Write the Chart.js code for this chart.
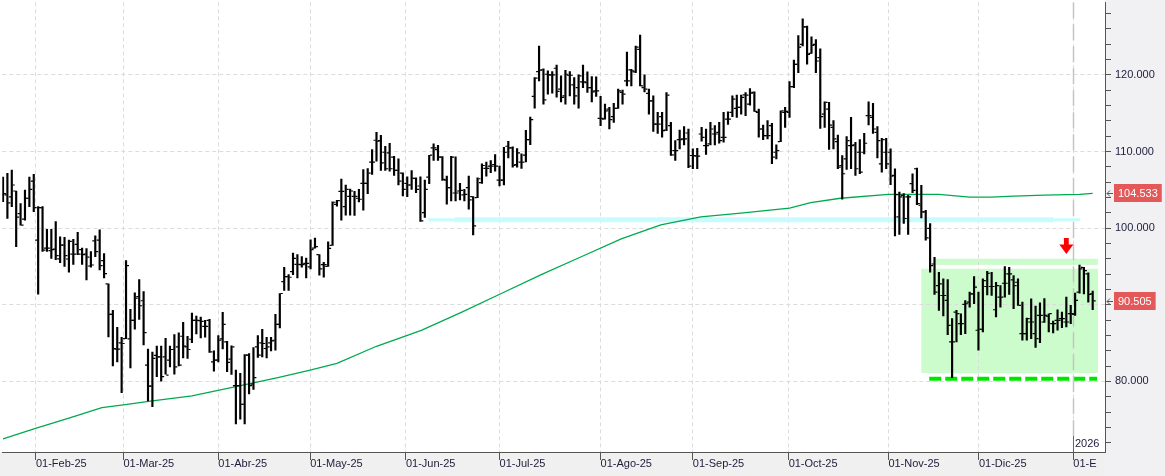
<!DOCTYPE html>
<html>
<head>
<meta charset="utf-8">
<script src="https://cdn.jsdelivr.net/npm/chart.js@4"></script>
<style>
  html, body { margin: 0; padding: 0; background: #fff; }
  #myChart { display: block; }
</style>
</head>
<body>
<canvas id="myChart" width="1165" height="476"></canvas>
<script>
// daily bars, Jan-2025 .. Jan-2026 (index 0 = first bar on screen)
const opens = [
  104.42,104.33,104.07,104.85,101.9,101.17,103.9,106.15,98.44,102.68,
  97.4,97.06,97.27,95.99,97.79,95.97,96.62,97.88,97.19,96.62,
  95.06,98.35,98.44,95.76,92.73,88.74,84.2,85.02,85.58,85.54,
  87.97,91.08,90.52,82.12,79.39,83.38,83.2,83.2,82.77,84.16,
  84.5,85.89,84.5,85.5,87.97,87.92,87.19,87.97,82.55,82.77,
  85.54,85.15,82.9,79.44,79.44,77.01,83.42,79.65,84.5,85.02,
  84.29,85.02,85.37,87.45,93.03,93.68,94.33,95.28,95.24,95.41,
  94.94,97.4,96.54,95.24,95.02,97.75,103.1,104.81,102.81,104.16,
  104.16,103.9,105.84,105.84,108.61,111.47,111.43,109.91,109.83,109.26,
  107.53,107.19,105.84,105.63,106.49,105.5,102.03,106.67,110.48,110.26,
  109.26,106.28,105.28,104.59,104.85,104.33,105.28,104.11,103.98,105.93,
  107.79,108.1,108.31,106.28,106.28,110.69,110.48,108.31,108.61,109.52,
  111.56,117.19,120.43,120.65,120.09,120.0,120.87,118.14,117.27,119.96,
  118.7,118.35,119.09,119.0,118.35,117.92,114.33,114.24,115.54,114.55,
  115.63,117.71,119.22,120.65,120.39,123.33,118.35,117.58,116.62,113.59,
  114.55,112.81,113.38,110.13,111.56,111.65,112.42,109.48,109.39,112.29,
  110.78,111.0,112.29,112.51,111.86,114.24,115.11,115.63,115.76,117.4,
  116.19,117.71,115.11,112.94,112.08,113.38,109.91,111.3,115.11,115.11,
  118.48,121.39,124.0,126.28,122.81,123.98,122.25,114.89,115.54,113.16,
  111.3,108.18,109.05,110.78,110.87,109.91,109.91,114.68,114.46,112.51,
  108.4,109.91,109.91,106.88,101.47,104.29,104.07,105.8,107.75,102.99,
  102.12,99.96,95.32,92.51,91.21,90.56,85.15,89.05,87.53,90.04,
  90.35,91.43,86.67,86.8,92.38,92.38,89.35,91.0,92.81,94.03,
  93.25,92.94,86.23,86.23,87.75,86.23,88.62,87.75,88.5,87.53,
  87.97,88.18,87.75,88.83,88.74,91.65,94.89,94.03,91.43
];
const highs = [
  106.67,107.14,107.58,104.85,103.2,104.98,106.67,107.01,102.81,102.81,
  99.83,99.83,100.87,98.87,98.79,98.44,98.53,99.44,97.4,97.32,
  96.93,99.0,99.78,96.67,92.73,89.26,87.06,85.76,95.76,89.39,
  91.56,93.29,91.73,84.2,83.81,84.59,84.59,85.63,84.59,86.1,
  86.32,87.71,85.89,88.92,88.53,88.4,87.97,88.1,83.98,85.97,
  89.0,85.24,84.63,81.47,81.04,83.51,83.64,84.42,85.97,86.8,
  85.76,85.76,88.74,91.47,94.89,93.94,96.75,96.54,96.28,96.1,
  98.48,98.7,96.54,95.54,98.23,103.42,103.64,106.41,105.63,105.11,
  104.81,105.06,107.66,107.79,110.26,112.51,112.12,110.69,111.08,109.39,
  109.05,107.23,106.71,107.53,106.58,106.71,106.28,109.52,111.0,110.82,
  109.35,106.8,109.39,109.31,105.84,105.06,106.8,104.11,106.58,108.4,
  108.61,108.83,109.61,108.1,110.56,111.34,110.61,110.39,109.7,112.77,
  114.5,119.65,123.77,120.78,120.52,120.43,121.3,119.87,120.61,120.43,
  119.65,120.0,121.3,120.39,119.78,119.74,117.19,116.19,115.76,116.28,
  118.14,118.01,122.99,120.74,123.77,125.19,120.0,118.14,117.27,115.11,
  115.11,117.71,113.81,111.43,112.81,113.25,112.94,110.35,110.43,113.16,
  112.94,113.81,113.38,113.81,115.11,115.19,117.27,117.36,117.36,117.71,
  118.23,117.79,115.54,113.46,114.03,113.68,110.87,115.32,115.76,119.13,
  121.95,125.15,127.32,126.36,124.98,124.63,123.42,116.49,116.41,114.03,
  112.16,109.48,111.95,114.46,111.21,111.56,112.38,116.49,116.28,113.25,
  111.73,111.73,110.35,107.75,104.72,104.5,104.29,107.1,107.84,105.58,
  102.34,100.61,96.19,94.24,93.38,93.29,88.18,89.26,88.83,90.56,
  91.65,93.68,91.65,93.38,94.37,94.24,92.94,92.51,94.98,94.89,
  93.81,93.38,90.35,88.27,90.78,89.83,90.26,90.82,88.83,87.88,
  89.35,89.05,91.0,89.91,91.52,95.19,94.89,94.16,91.77
];
const lows = [
  103.46,101.26,102.81,97.58,100.39,101.04,102.81,102.16,91.39,96.97,
  96.97,96.06,95.89,95.5,95.02,94.24,95.28,96.54,95.28,93.25,
  94.89,96.28,94.55,93.5,85.8,82.03,82.55,78.53,85.58,81.77,
  86.8,88.1,84.76,77.45,76.71,80.61,80.04,80.95,81.9,80.95,
  82.03,83.07,82.99,85.06,86.19,85.67,85.76,83.77,81.34,82.55,
  84.24,81.26,80.91,74.46,75.06,74.46,78.35,78.96,83.12,83.2,
  83.07,83.98,84.07,86.97,91.86,91.86,93.94,93.51,94.89,93.51,
  94.68,97.4,93.85,93.59,95.02,97.75,102.86,101.04,101.69,101.69,
  101.65,103.42,102.34,104.5,107.01,108.74,107.53,107.53,107.45,106.88,
  105.63,104.2,104.11,105.06,104.63,100.87,101.39,105.8,108.83,108.83,
  106.23,103.12,103.55,103.55,103.68,103.55,102.47,99.13,103.98,105.84,
  106.8,107.23,107.45,105.5,105.63,109.18,107.97,107.97,107.79,108.66,
  110.91,115.67,119.22,116.19,117.49,117.62,117.1,116.49,116.19,117.27,
  116.19,115.67,118.35,117.71,116.49,117.19,113.38,114.24,112.94,113.81,
  115.63,116.19,118.57,118.57,120.3,118.57,117.79,114.89,112.64,112.38,
  111.86,112.73,109.48,108.83,110.35,110.87,107.88,107.75,107.75,111.34,
  109.61,110.87,110.87,111.08,111.21,113.55,114.55,114.46,114.89,114.68,
  116.06,115.24,111.86,111.56,111.65,108.4,109.05,111.3,113.16,114.46,
  118.35,120.3,123.77,121.39,122.81,120.3,113.03,113.16,110.26,110.35,
  107.75,103.77,107.66,107.75,106.88,107.1,109.7,113.46,112.38,109.18,
  107.32,107.75,105.67,99.0,99.18,100.61,99.18,104.63,103.08,101.34,
  98.44,94.24,91.34,89.26,88.53,86.1,80.48,85.15,86.1,86.23,
  89.7,90.13,84.07,86.45,91.3,91.21,88.4,89.7,91.0,91.34,
  89.48,89.91,85.37,85.37,85.58,84.42,85.06,87.7,86.45,86.32,
  86.67,87.01,87.1,87.53,88.62,91.52,91.43,90.35,89.35
];
const closes = [
  104.5,103.29,105.63,101.43,100.39,103.9,105.06,102.68,102.68,97.14,
  97.4,97.19,96.41,97.79,96.41,98.27,96.62,96.62,96.54,96.23,
  95.19,96.93,95.11,94.07,88.74,84.29,84.2,84.94,95.11,87.97,
  90.87,89.87,86.36,79.39,82.99,83.2,80.61,80.82,84.16,81.9,
  82.12,84.59,84.16,87.97,87.97,87.84,87.19,83.85,82.77,85.37,
  87.45,82.47,84.5,79.44,77.01,83.42,79.44,80.5,83.42,84.94,
  84.5,85.28,87.45,91.47,93.68,93.59,96.06,95.28,95.24,95.41,
  97.19,97.58,94.68,95.24,97.36,103.38,103.6,104.81,105.06,104.85,
  104.16,103.77,105.84,107.19,108.61,111.34,108.53,107.75,107.75,107.53,
  106.15,105.06,105.63,106.49,105.06,100.95,105.06,109.52,110.48,109.26,
  106.36,105.28,109.26,104.59,104.94,104.42,103.68,100.3,106.45,108.18,
  107.79,108.1,108.1,106.28,109.91,110.48,108.18,109.83,108.61,111.56,
  114.16,119.57,120.61,116.75,120.0,120.0,117.84,117.06,120.09,119.96,
  117.27,119.87,119.09,118.35,117.79,117.92,114.33,115.32,114.16,115.63,
  117.92,117.49,119.22,120.52,123.64,118.57,118.14,116.62,113.59,113.59,
  112.73,117.36,109.57,110.13,111.56,111.65,108.1,109.48,109.39,111.86,
  110.78,112.94,112.29,111.43,111.86,114.24,116.84,115.76,117.06,117.36,
  117.62,115.24,112.94,112.08,112.08,109.26,110.13,115.32,115.24,118.48,
  121.39,123.64,126.28,122.68,123.85,121.82,114.55,116.41,113.46,111.65,
  107.97,107.1,111.43,110.78,107.75,107.32,111.08,114.68,112.94,111.43,
  111.56,108.4,106.8,104.37,104.07,101.26,104.07,104.94,103.2,102.12,
  98.74,95.11,91.65,92.73,91.21,87.32,85.15,88.83,87.53,90.13,
  91.43,92.29,86.8,93.16,94.11,92.38,92.51,91.0,92.81,94.03,
  92.51,89.91,86.23,88.18,87.75,85.58,88.62,88.62,88.83,87.53,
  87.97,88.18,87.75,88.83,90.56,94.68,94.46,91.34,90.505
];

// month starts (bar index) and their labels
const monthPos = [7.5, 27.4, 49.0, 69.9, 91.7, 113.0, 136.0, 157.0, 178.8, 201.5, 222.1, 243.6];
const monthLabels = ['01-Feb-25','01-Mar-25','01-Abr-25','01-May-25','01-Jun-25','01-Jul-25',
  '01-Ago-25','01-Sep-25','01-Oct-25','01-Nov-25','01-Dic-25','01-E'];
const yearLabel = '2026';

// long moving average
const maIdx = [0, 7.4, 15, 22.5, 27.4, 34, 43, 53, 62.3, 69.9, 76, 85, 95.2, 104.3, 113.4, 122.5,
  131.6, 140.7, 149.7, 158.8, 167.9, 179, 183.8, 190.6, 201.5, 213, 220, 225, 230, 237, 245, 248];
const maValues = [72.5, 73.85, 75.2, 76.57, 76.92, 77.44, 78.1, 79.3, 80.47, 81.47, 82.34, 84.58, 86.66, 89.0, 91.47, 93.94,
  96.27, 98.61, 100.43, 101.47, 101.95, 102.6, 103.33, 103.9, 104.4, 104.4, 104.06, 104.06, 104.19, 104.3, 104.4, 104.533];

// support band (cyan) and the lateral range box
const supportLevel = 101.1;
const supportSpans = [[96.8, 102.7], [102.7, 239], [239, 245.1]];
const rangeBox = [209, 249.2, 81.1, 94.7];
const rangeTop = [212, 249.2, 95.2, 96.0];
const floorLevel = 80.34;
const floorSpan = [210.8, 249];
const arrowAt = 242, arrowTip = 96.62, arrowTop = 98.7;

const yMajor = [80, 90, 100, 110, 120];
const priceTags = [104.533, 90.505];
const priceTagLabels = ['104.533', '90.505'];

Chart.defaults.font.family = '"Liberation Sans", Arial, sans-serif';
Chart.defaults.font.size = 11;

const ctx = document.getElementById('myChart');

const bgPlugin = {
  id: 'bg',
  beforeDraw(chart) {
    const c = chart.ctx, a = chart.chartArea;
    const x = chart.scales.x, y = chart.scales.y;
    c.save();
    c.fillStyle = '#ffffff';
    c.fillRect(0, 0, chart.width, chart.height);
    c.fillStyle = '#f1f1f4';
    c.fillRect(a.right, 0, chart.width - a.right, chart.height);
    c.fillStyle = '#f0f0f0';
    c.fillRect(0, a.bottom, a.right, chart.height - a.bottom);
    // range box under the grid
    c.beginPath();
    c.rect(a.left, a.top, a.right - a.left, a.bottom - a.top);
    c.clip();
    c.fillStyle = '#ccfccc';
    [rangeBox, rangeTop].forEach(b => {
      const x1 = x.getPixelForValue(b[0]), x2 = x.getPixelForValue(b[1]);
      const y1 = y.getPixelForValue(b[3]), y2 = y.getPixelForValue(b[2]);
      c.fillRect(x1, y1, x2 - x1, y2 - y1);
    });
    c.restore();
  }
};

const markPlugin = {
  id: 'marks',
  beforeDatasetsDraw(chart) {
    const c = chart.ctx, a = chart.chartArea;
    const x = chart.scales.x, y = chart.scales.y;
    c.save();
    c.beginPath();
    c.rect(a.left, a.top, a.right - a.left, a.bottom - a.top);
    c.clip();
    // dashed floor
    c.strokeStyle = '#00e600';
    c.lineWidth = 4;
    c.setLineDash([12, 4]);
    const fy = y.getPixelForValue(floorLevel);
    c.beginPath();
    c.moveTo(x.getPixelForValue(floorSpan[0]), fy);
    c.lineTo(x.getPixelForValue(floorSpan[1]), fy);
    c.stroke();
    // year separator
    const jx = Math.round(x.getPixelForValue(monthPos[monthPos.length - 1])) + 0.5;
    c.strokeStyle = '#c4c4c4';
    c.lineWidth = 1.5;
    c.setLineDash([16, 6]);
    c.beginPath();
    c.moveTo(jx, a.top);
    c.lineTo(jx, a.bottom - 16);
    c.stroke();
    c.setLineDash([]);
    c.strokeStyle = '#666';
    c.lineWidth = 1;
    c.beginPath();
    c.moveTo(jx, a.bottom - 16);
    c.lineTo(jx, a.bottom);
    c.stroke();
    c.restore();
  },
  afterDatasetsDraw(chart) {
    const c = chart.ctx;
    const x = chart.scales.x, y = chart.scales.y;
    const cx = x.getPixelForValue(arrowAt);
    const top = y.getPixelForValue(arrowTop), tip = y.getPixelForValue(arrowTip);
    const neck = top + (tip - top) * 0.4;
    c.save();
    c.fillStyle = '#ff0000';
    c.beginPath();
    c.moveTo(cx - 2.4, top);
    c.lineTo(cx + 2.4, top);
    c.lineTo(cx + 2.4, neck);
    c.lineTo(cx + 7, neck);
    c.lineTo(cx, tip);
    c.lineTo(cx - 7, neck);
    c.lineTo(cx - 2.4, neck);
    c.closePath();
    c.fill();
    c.restore();
  },
  afterDraw(chart) {
    const c = chart.ctx, a = chart.chartArea;
    const x = chart.scales.x, y = chart.scales.y;
    c.save();
    c.font = '11px "Liberation Sans", Arial, sans-serif';
    c.textBaseline = 'middle';
    priceTags.forEach((v, i) => {
      const py = Math.round(y.getPixelForValue(v));
      const txt = priceTagLabels[i];
      const w = c.measureText(txt).width + 8;
      c.fillStyle = '#e35858';
      c.fillRect(a.right + 9, py - 9, w, 18);
      c.fillStyle = '#ffffff';
      c.fillText(txt, a.right + 13, py + 0.5);
      c.strokeStyle = '#555';
      c.lineWidth = 1;
      c.beginPath();
      c.moveTo(a.right + 2, py + 0.5);
      c.lineTo(a.right + 8, py + 0.5);
      c.moveTo(a.right + 5, py - 2.5);
      c.lineTo(a.right + 2, py + 0.5);
      c.lineTo(a.right + 5, py + 3.5);
      c.stroke();
    });
    const jx = Math.round(x.getPixelForValue(monthPos[monthPos.length - 1]));
    c.fillStyle = '#1d1d3a';
    c.textBaseline = 'alphabetic';
    c.fillText(yearLabel, jx + 2, a.bottom - 5);
    c.restore();
  }
};

const barData = highs.map((h, i) => ({ x: i, y: [lows[i], h] }));
const openData = opens.map((v, i) => ({ x: i - 0.42, y: v }));
const closeData = closes.map((v, i) => ({ x: i + 0.42, y: v }));
const maData = maIdx.map((v, i) => ({ x: v, y: maValues[i] }));
const supportWidths = [3, 5, 3];

const tickSet = {
  type: 'line', showLine: false, pointStyle: 'line', pointRadius: 1.1, pointHoverRadius: 1.1,
  pointBorderColor: '#000', pointBorderWidth: 1.2, order: 0
};

new Chart(ctx, {
  type: 'bar',
  data: {
    datasets: [
      { type: 'bar', data: barData, backgroundColor: '#000', borderWidth: 0, barThickness: 1.5, order: 1 },
      Object.assign({ data: openData }, tickSet),
      Object.assign({ data: closeData }, tickSet),
      { type: 'line', data: maData, borderColor: '#00aa4f', borderWidth: 1.3, pointRadius: 0, tension: 0, order: 2 },
      ...supportSpans.map((s, k) => ({
        type: 'line',
        data: [{ x: s[0], y: supportLevel }, { x: s[1], y: supportLevel }],
        borderColor: '#c8fbfd', borderWidth: supportWidths[k], pointRadius: 0, order: 3
      }))
    ]
  },
  options: {
    responsive: false,
    animation: false,
    events: [],
    layout: { padding: 0 },
    plugins: { legend: { display: false }, tooltip: { enabled: false } },
    scales: {
      x: {
        type: 'linear',
        min: -0.16,
        max: 250.8,
        offset: false,
        afterBuildTicks: s => { s.ticks = monthPos.map(v => ({ value: v })); },
        afterFit: s => { s.height = 24; s.paddingLeft = 0; s.paddingRight = 0; },
        ticks: {
          autoSkip: false, maxRotation: 0, align: 'start', padding: -3, color: '#1d1d3a',
          callback: (v, i) => monthLabels[i]
        },
        grid: { color: '#dcdcdc', lineWidth: 1, tickLength: 8, tickColor: '#555', offset: false },
        border: { color: '#555', dash: [4, 3] }
      },
      y: {
        type: 'linear',
        position: 'right',
        min: 70.78,
        max: 129.48,
        beginAtZero: false,
        afterBuildTicks: s => {
          const t = [];
          for (let v = 72; v <= 128; v += 2) t.push({ value: v });
          s.ticks = t;
        },
        afterFit: s => { s.width = 60; s.paddingTop = 0; s.paddingBottom = 0; },
        ticks: {
          autoSkip: false, padding: 4, color: '#1d1d3a',
          callback: v => (yMajor.includes(v) ? v.toFixed(3) : '')
        },
        grid: {
          color: c => (c.tick && yMajor.includes(c.tick.value) ? '#dcdcdc' : 'rgba(0,0,0,0)'),
          tickLength: 6, tickColor: '#555'
        },
        border: { color: '#555', dash: [4, 3] }
      }
    }
  },
  plugins: [bgPlugin, markPlugin]
});
</script>
</body>
</html>
